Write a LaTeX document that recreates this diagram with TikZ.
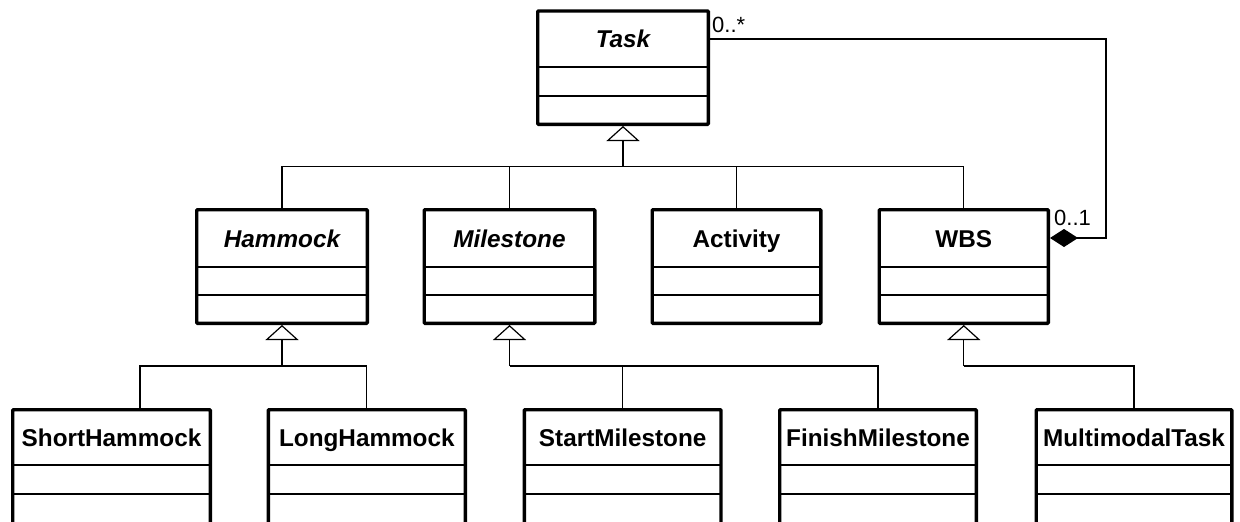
\documentclass[tikz,border=0pt]{standalone}
\usepackage{fontspec}
\setmainfont{Liberation Sans}
\usetikzlibrary{arrows.meta}
\tikzset{
  classframe/.style={draw=black, line width=3.3pt, fill=white, inner sep=0pt, rounded corners=0.8pt},
  divider/.style={draw=black, line width=1.3pt},
  conn/.style={draw=black, line width=1.2pt},
  gen/.style={conn, -{Triangle[width=33pt,length=15pt,fill=white,line width=1.2pt]}},
  compo/.style={conn, -{Diamond[width=18pt,length=28pt,fill=black]}},
  cname/.style={font=\fontsize{24.3}{28}\selectfont\bfseries, inner sep=0pt, anchor=base},
  aname/.style={font=\fontsize{24.3}{28}\selectfont\bfseries\itshape, inner sep=0pt, anchor=base},
  mult/.style={font=\fontsize{22}{26}\selectfont, inner sep=0pt, anchor=base west}
}
% #1 name, #2 left, #3 right, #4 top, #5 bottom, #6 div1, #7 div2, #8 style, #9 text
\newcommand\umlclassbox[9]{%
  \node[classframe, minimum width={(#3-#2-3.3)*1pt}, minimum height={(#5-#4-3.3)*1pt}]
     (#1) at ({(#2+#3)/2},{(#4+#5)/2}) {};
  \draw[divider] (#2+1,#6) -- (#3-1,#6);
  \draw[divider] (#2+1,#7) -- (#3-1,#7);
  \node[#8] (#1-t) at ({(#2+#3)/2},{(#4+#6)/2+9.5}) {#9};
}
\begin{document}
\begin{tikzpicture}[x=1pt,y=-1pt]
\useasboundingbox (0,0) rectangle (1240,522);
% classes
\umlclassbox{Task}{536}{710}{9.3}{126}{67}{96}{aname}{Task}
\umlclassbox{Hammock}{195}{369}{208}{325}{267}{295}{aname}{Hammock}
\umlclassbox{Milestone}{422.5}{596.5}{208}{325}{267}{295}{aname}{Milestone}
\umlclassbox{Activity}{650.5}{822.5}{208}{325}{267}{295}{cname}{Activity}
\umlclassbox{WBS}{877.5}{1050}{208}{325}{267}{295}{cname}{WBS}
\umlclassbox{ShortHammock}{11}{212}{408}{527}{465}{494}{cname}{ShortHammock}
\umlclassbox{LongHammock}{266.7}{467}{408}{527}{465}{494}{cname}{LongHammock}
\umlclassbox{StartMilestone}{522.7}{722.7}{408}{527}{465}{494}{cname}{StartMilestone}
\umlclassbox{FinishMilestone}{778}{978}{408}{527}{465}{494}{cname}{FinishMilestone}
\umlclassbox{MultimodalTask}{1034.5}{1233.5}{408}{527}{465}{494}{cname}{MultimodalTask}
% generalization: level 1
\coordinate (b0) at (623,166.5);
\draw[conn] (Hammock.north) |- (b0);
\draw[conn] (Milestone.north) |- (b0);
\draw[conn] (Activity.north) |- (b0);
\draw[conn] (WBS.north) |- (b0);
\draw[gen] (b0) -- (Task.south);
% generalization: Hammock
\coordinate (b1) at (282,366);
\draw[conn] (140,0 |- ShortHammock.north) |- (b1);
\draw[conn] (LongHammock.north) |- (b1);
\draw[gen] (b1) -- (Hammock.south);
% generalization: Milestone
\coordinate (b2) at (509.5,366);
\draw[conn] (StartMilestone.north) |- (b2);
\draw[conn] (FinishMilestone.north) |- (b2);
\draw[gen] (b2) -- (Milestone.south);
% generalization: WBS
\coordinate (b3) at (963.75,366);
\draw[conn] (MultimodalTask.north) |- (b3);
\draw[gen] (b3) -- (WBS.south);
% composition
\coordinate (c1) at (1106,39);
\coordinate (c2) at (1106,238);
\draw[compo] (Task.east |- 0,39) -- (c1) -- (c2) -- (WBS.east |- 0,238);
\node[mult] (m1) at (712,32) {0..*};
\node[mult] (m2) at (1054,225) {0..1};
\end{tikzpicture}
\end{document}
